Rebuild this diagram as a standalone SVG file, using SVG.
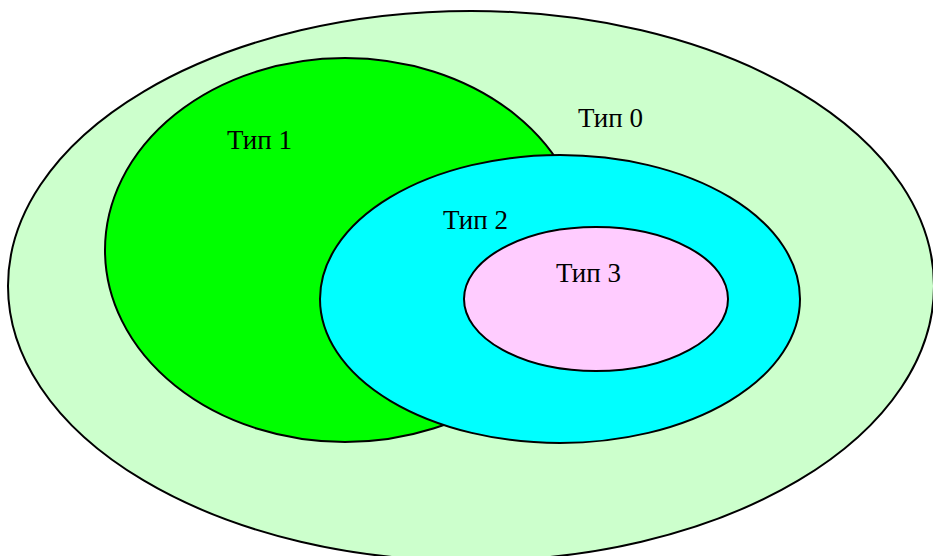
<svg xmlns="http://www.w3.org/2000/svg" width="933" height="556" viewBox="0 0 933 556">
  <style>
    .set { stroke: #000; stroke-width: 2; }
    .lbl { font-family: "Liberation Serif", "Times New Roman", serif; font-size: 27px; fill: #000; }
  </style>
  <rect width="933" height="556" fill="#fff"/>
  <g id="type0">
    <ellipse class="set" cx="471" cy="286" rx="463" ry="275" fill="#ccffcc"/>
    <text class="lbl" x="578" y="127">Тип 0</text>
  </g>
  <g id="type1">
    <ellipse class="set" cx="345" cy="250" rx="240" ry="192" fill="#00ff00"/>
    <text class="lbl" x="227" y="149">Тип 1</text>
  </g>
  <g id="type2">
    <ellipse class="set" cx="560" cy="299" rx="240" ry="144" fill="#00ffff"/>
    <text class="lbl" x="443" y="229">Тип 2</text>
  </g>
  <g id="type3">
    <ellipse class="set" cx="596" cy="299" rx="132" ry="72" fill="#ffccff"/>
    <text class="lbl" x="556" y="282">Тип 3</text>
  </g>
  <g id="connectors"/>
</svg>
